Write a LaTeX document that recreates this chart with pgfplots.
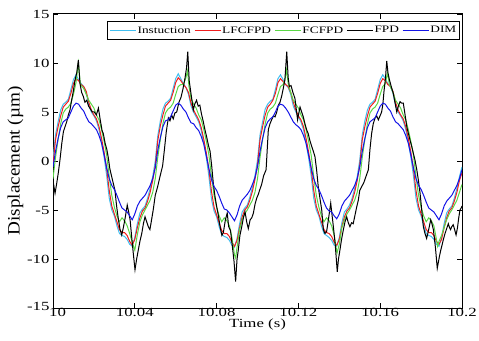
\documentclass[border=0pt]{standalone}
\usepackage{fontspec}
\usepackage{graphicx}
\usepackage{pgfplots}
\pgfplotsset{compat=1.18}
\setmainfont{Liberation Serif}[FakeStretch=1.35]
\newfontfamily\ylfont{Liberation Serif}[FakeStretch=1.1]
\definecolor{cInst}{RGB}{64,190,240}
\definecolor{cRed}{RGB}{240,30,30}
\definecolor{cGreen}{RGB}{90,215,70}
\definecolor{cBlue}{RGB}{20,20,230}
\begin{document}
\begin{tikzpicture}
\path[use as bounding box] (-53bp,-33bp) rectangle (426bp,308bp);
\begin{axis}[
  at={(0,0)}, anchor=south west,
  scale only axis, width=409bp, height=294bp,
  xmin=0, xmax=200, ymin=-15, ymax=15,
  xtick={0,40,80,120,160,200},
  xticklabels={\hspace*{9bp}10,10.04,10.08,10.12,10.16,10.2},
  ytick={-15,-10,-5,0,5,10,15},
  yticklabels={\raisebox{4bp}{-15},-10,-5,0,5,10,15},
  tick align=inside, major tick length=5bp,
  axis line style={line width=1bp},
  every tick/.style={black, line width=0.8bp},
  tick label style={font=\fontsize{12.5}{14}\selectfont},
  xticklabel style={yshift=3bp},
  xlabel={Time (s)},
  xlabel style={font=\fontsize{12.5}{14}\selectfont, yshift=5bp},
  ylabel={\ylfont\fontsize{17.5}{19}\selectfont Displacement (µm)},
  ylabel style={yshift=-3bp},
  legend columns=5,
  legend style={at={(rel axis cs:1,1)}, anchor=north east, xshift=-2bp, yshift=-7bp,
    font=\fontsize{9.9}{12}\selectfont, line width=1bp, inner xsep=2bp, inner ysep=3.5bp,
    /tikz/every odd column/.append style={column sep=0bp},
    /tikz/every even column/.append style={column sep=2bp},
    nodes={inner xsep=1.2bp, inner ysep=1.5bp}},
  legend image code/.code={\draw[#1, line width=1bp] (0bp,0bp) -- (26bp,0bp);},
  every axis plot/.append style={line width=1bp},
]
% Instruction
\addplot[color=cInst, draw=cInst] coordinates {
(0,0.2)(1.25,2.7)(2.5,4.0)(3.75,5.2)(5,5.8)(6.25,6.0)(7.5,6.3)(8.75,7.3)(10,8.3)(11.25,8.8)(12.5,8.3)(13.75,7.9)(15,7.6)(16.25,6.9)(17.5,5.7)(18.75,5.0)(20,4.6)(21.25,4.1)(22.5,3.2)(23.75,1.9)(25,0.4)(26.25,-1.5)(27.5,-3.8)(28.75,-5.0)(30,-5.6)(31.25,-6.6)(32.5,-7.4)(33.75,-7.6)(35,-7.7)(36.25,-8.0)(37.5,-8.5)(38.75,-8.7)(40,-7.8)(41.25,-6.4)(42.5,-5.3)(43.75,-4.9)(45,-4.6)(46.25,-3.8)(47.5,-2.8)(48.75,-1.6)
(50,0.0)(51.25,2.6)(52.5,4.1)(53.75,5.3)(55,5.9)(56.25,6.1)(57.5,6.4)(58.75,7.4)(60,8.4)(61.25,8.9)(62.5,8.4)(63.75,7.9)(65,7.5)(66.25,6.8)(67.5,5.6)(68.75,5.0)(70,4.5)(71.25,4.0)(72.5,3.1)(73.75,1.8)(75,0.3)(76.25,-1.6)(77.5,-3.9)(78.75,-5.1)(80,-5.7)(81.25,-6.7)(82.5,-7.5)(83.75,-7.7)(85,-7.8)(86.25,-8.1)(87.5,-8.6)(88.75,-8.8)(90,-7.9)(91.25,-6.4)(92.5,-5.2)(93.75,-4.8)(95,-4.5)(96.25,-3.7)(97.5,-2.7)(98.75,-1.5)
(100,0.1)(101.25,2.7)(102.5,4.0)(103.75,5.3)(105,5.8)(106.25,6.1)(107.5,6.3)(108.75,7.3)(110,8.4)(111.25,8.8)(112.5,8.3)(113.75,7.8)(115,7.5)(116.25,6.8)(117.5,5.6)(118.75,5.0)(120,4.5)(121.25,4.0)(122.5,3.2)(123.75,1.8)(125,0.3)(126.25,-1.5)(127.5,-3.8)(128.75,-5.0)(130,-5.6)(131.25,-6.6)(132.5,-7.4)(133.75,-7.6)(135,-7.8)(136.25,-8.1)(137.5,-8.6)(138.75,-8.7)(140,-7.8)(141.25,-6.3)(142.5,-5.2)(143.75,-4.9)(145,-4.5)(146.25,-3.8)(147.5,-2.8)(148.75,-1.6)
(150,0.1)(151.25,2.7)(152.5,4.1)(153.75,5.2)(155,5.8)(156.25,6.0)(157.5,6.3)(158.75,7.3)(160,8.3)(161.25,8.8)(162.5,8.4)(163.75,7.9)(165,7.6)(166.25,6.9)(167.5,5.7)(168.75,5.0)(170,4.6)(171.25,4.1)(172.5,3.2)(173.75,1.9)(175,0.4)(176.25,-1.5)(177.5,-3.8)(178.75,-5.0)(180,-5.6)(181.25,-6.6)(182.5,-7.4)(183.75,-7.6)(185,-7.7)(186.25,-8.0)(187.5,-8.5)(188.75,-8.7)(190,-7.8)(191.25,-6.4)(192.5,-5.3)(193.75,-4.9)(195,-4.6)(196.25,-3.8)(197.5,-2.8)(198.75,-1.6)(200,-0.6)
};
\addlegendentry{Instuction}
% LFCFPD
\addplot[color=cRed, draw=cRed] coordinates {
(0,-0.4)(1.25,2.2)(2.5,3.5)(3.75,4.6)(5,5.5)(6.25,5.8)(7.5,6.1)(8.75,6.9)(10,7.9)(11.25,8.4)(12.5,8.2)(13.75,7.8)(15,7.6)(16.25,7.1)(17.5,6.0)(18.75,5.2)(20,4.7)(21.25,4.3)(22.5,3.5)(23.75,2.3)(25,0.9)(26.25,-0.8)(27.5,-3.0)(28.75,-4.6)(30,-5.4)(31.25,-6.2)(32.5,-7.0)(33.75,-7.3)(35,-7.3)(36.25,-7.6)(37.5,-8.2)(38.75,-8.6)(40,-8.0)(41.25,-6.8)(42.5,-5.8)(43.75,-5.1)(45,-4.8)(46.25,-4.1)(47.5,-3.2)(48.75,-2.0)
(50,-0.5)(51.25,2.1)(52.5,3.6)(53.75,4.7)(55,5.6)(56.25,5.9)(57.5,6.2)(58.75,7.0)(60,8.0)(61.25,8.5)(62.5,8.2)(63.75,7.8)(65,7.5)(66.25,7.0)(67.5,5.9)(68.75,5.2)(70,4.7)(71.25,4.2)(72.5,3.4)(73.75,2.2)(75,0.8)(76.25,-0.9)(77.5,-3.1)(78.75,-4.7)(80,-5.5)(81.25,-6.3)(82.5,-7.1)(83.75,-7.4)(85,-7.4)(86.25,-7.7)(87.5,-8.3)(88.75,-8.7)(90,-8.1)(91.25,-6.8)(92.5,-5.7)(93.75,-5.0)(95,-4.7)(96.25,-4.0)(97.5,-3.1)(98.75,-1.9)
(100,-0.4)(101.25,2.2)(102.5,3.5)(103.75,4.7)(105,5.5)(106.25,5.8)(107.5,6.2)(108.75,6.9)(110,8.0)(111.25,8.4)(112.5,8.1)(113.75,7.8)(115,7.6)(116.25,7.0)(117.5,6.0)(118.75,5.2)(120,4.6)(121.25,4.2)(122.5,3.5)(123.75,2.3)(125,0.9)(126.25,-0.8)(127.5,-3.0)(128.75,-4.6)(130,-5.4)(131.25,-6.2)(132.5,-7.0)(133.75,-7.3)(135,-7.4)(136.25,-7.7)(137.5,-8.3)(138.75,-8.6)(140,-8.0)(141.25,-6.7)(142.5,-5.7)(143.75,-5.1)(145,-4.8)(146.25,-4.1)(147.5,-3.2)(148.75,-2.0)
(150,-0.4)(151.25,2.2)(152.5,3.5)(153.75,4.6)(155,5.5)(156.25,5.8)(157.5,6.1)(158.75,6.9)(160,7.9)(161.25,8.4)(162.5,8.2)(163.75,7.8)(165,7.6)(166.25,7.1)(167.5,6.0)(168.75,5.2)(170,4.7)(171.25,4.3)(172.5,3.5)(173.75,2.3)(175,0.9)(176.25,-0.8)(177.5,-3.0)(178.75,-4.6)(180,-5.4)(181.25,-6.2)(182.5,-7.0)(183.75,-7.3)(185,-7.3)(186.25,-7.6)(187.5,-8.2)(188.75,-8.5)(190,-8.0)(191.25,-6.8)(192.5,-5.8)(193.75,-5.1)(195,-4.8)(196.25,-4.1)(197.5,-3.2)(198.75,-2.0)(200,-1.2)
};
\addlegendentry{LFCFPD}
% FCFPD
\addplot[color=cGreen, draw=cGreen] coordinates {
(0,-1.8)(1.25,0.4)(2.5,2.2)(3.75,3.8)(5,4.9)(6.25,5.3)(7.5,5.5)(8.75,5.9)(10,6.8)(11.25,8.0)(12.4,10.0)(13.3,8.0)(13.75,7.7)(15,7.4)(16.25,6.8)(17.5,6.2)(18.75,5.8)(20,5.4)(21.25,4.7)(22.5,4.2)(23.75,3.2)(25,2.0)(26.25,0.6)(27.5,-1.6)(28.75,-3.5)(30,-4.7)(31.25,-5.6)(32.5,-6.2)(33.75,-5.8)(35,-6.1)(36.25,-6.6)(37.5,-7.4)(38.75,-8.3)(40,-9.1)(41.25,-7.5)(42.5,-6.2)(43.75,-5.5)(45,-5.0)(46.25,-4.5)(47.5,-4.0)(48.75,-3.2)
(50,-1.8)(51.25,0.4)(52.5,2.2)(53.75,3.8)(55,4.9)(56.25,5.3)(57.5,5.5)(58.75,5.9)(60,6.8)(61.25,7.6)(62.5,7.8)(63.75,7.8)(65,8.5)(65.8,9.2)(66.5,7.6)(67.5,6.4)(68.75,5.8)(70,5.4)(71.25,4.7)(72.5,4.2)(73.75,3.2)(75,2.0)(76.25,0.6)(77.5,-1.6)(78.75,-3.5)(80,-4.7)(81.25,-5.6)(82.5,-6.2)(83.75,-5.8)(85,-6.1)(86.25,-6.6)(87.5,-7.8)(88.75,-9.6)(89.3,-9.9)(90,-8.8)(91.25,-7.0)(92.5,-6.0)(93.75,-5.4)(95,-5.0)(96.25,-4.5)(97.5,-4.0)(98.75,-3.2)
(100,-1.8)(101.25,0.4)(102.5,2.2)(103.75,3.8)(105,4.9)(106.25,5.3)(107.5,5.5)(108.75,5.9)(110,6.8)(111.25,7.6)(112.5,7.8)(113.4,8.3)(114.2,9.3)(115,7.9)(116.25,7.0)(117.5,6.2)(118.75,5.8)(120,5.4)(121.25,4.7)(122.5,4.2)(123.75,3.2)(125,2.0)(126.25,0.6)(127.5,-1.6)(128.75,-3.5)(130,-4.7)(131.25,-5.6)(132.5,-6.2)(133.75,-5.8)(135,-6.1)(136.25,-6.6)(137.5,-7.6)(138.9,-9.4)(140,-8.5)(141.25,-6.8)(142.5,-6.0)(143.75,-5.4)(145,-5.0)(146.25,-4.5)(147.5,-4.0)(148.75,-3.2)
(150,-1.8)(151.25,0.4)(152.5,2.2)(153.75,3.8)(155,4.9)(156.25,5.3)(157.5,5.5)(158.75,5.9)(160,6.8)(161.25,7.6)(162.5,7.9)(163.6,9.0)(164.5,7.8)(165,7.6)(166.25,7.0)(167.5,6.2)(168.75,5.8)(170,5.4)(171.25,4.7)(172.5,4.2)(173.75,3.2)(175,2.0)(176.25,0.6)(177.5,-1.6)(178.75,-3.5)(180,-4.7)(181.25,-5.6)(182.5,-6.2)(183.75,-5.8)(185,-6.1)(186.25,-6.6)(187.5,-8.0)(188.1,-8.7)(188.75,-8.2)(190,-7.6)(191.25,-6.8)(192.5,-6.0)(193.75,-5.4)(195,-5.0)(196.25,-4.5)(197.5,-4.0)(198.75,-3.2)(200,-2.4)
};
\addlegendentry{FCFPD}
% FPD
\addplot[color=black, draw=black] coordinates {
(0,-2.0)(1.0,-3.3)(1.8,-2.3)(2.6,-1.2)(3.4,0.1)(4.3,1.8)(5.1,3.0)(5.9,3.5)(6.7,4.0)(7.5,4.7)(8.3,5.2)(9.1,6.2)(10.0,7.2)(10.8,8.3)(11.6,9.0)(12.4,10.3)(13.2,7.9)(14.0,7.0)(14.8,6.6)(15.6,6.0)(16.5,6.2)(17.4,5.6)(18.3,5.3)(19.2,5.0)(20.2,5.0)(21.2,4.7)(22.2,5.4)(23.1,4.2)(24.0,3.1)(24.6,2.8)(25.5,1.8)(26.3,1.2)(27.0,0.4)(27.8,-0.8)(28.7,-1.6)(29.5,-2.3)(30.3,-3.0)(31.1,-4.6)(32.0,-6.0)(32.8,-7.0)(33.6,-7.55)(34.4,-6.8)(35.3,-5.8)(36.3,-4.5)(37.0,-5.2)(37.7,-6.0)(38.5,-7.8)(39.3,-9.5)(40.1,-11.1)(40.9,-10.0)(41.7,-9.1)(42.5,-8.2)(43.4,-7.4)(44.2,-6.4)(45.0,-5.7)(45.8,-6.2)(46.6,-6.7)(47.4,-7.0)(48.2,-6.0)(49.0,-5.0)
(50,-3.5)(51.2,-2.6)(52.3,-1.6)(53.6,-0.5)(54.4,1.0)(55.4,3.0)(56.4,4.4)(57.2,4.1)(58.0,4.7)(58.8,4.3)(59.6,4.9)(60.5,5.0)(61.6,6.0)(62.6,6.5)(63.5,7.3)(64.5,8.4)(65.3,9.5)(65.9,11.15)(66.6,8.2)(67.4,7.0)(68.6,5.2)(69.3,5.8)(70.2,6.2)(71.0,5.6)(71.8,5.7)(72.6,4.8)(73.5,4.0)(74.3,3.2)(75.2,2.4)(76.0,1.6)(76.8,1.0)(77.6,-0.5)(78.4,-2.3)(79.2,-3.6)(80.0,-4.6)(80.8,-5.5)(81.7,-6.7)(82.6,-7.6)(83.3,-7.3)(84.3,-6.0)(85.2,-5.3)(85.9,-6.7)(86.8,-7.1)(87.6,-8.5)(88.5,-10.2)(89.3,-12.3)(90.0,-10.0)(90.6,-9.1)(91.4,-7.6)(92.3,-6.7)(93.2,-5.7)(93.9,-5.2)(94.8,-6.3)(95.5,-6.9)(96.4,-6.0)(97.2,-5.8)(98.0,-5.3)(98.8,-4.4)(99.6,-3.8)
(100.4,-3.4)(101.0,-3.0)(102.0,-2.4)(103.0,-1.5)(104.2,-0.9)(105.3,3.2)(106.1,3.8)(106.9,4.2)(107.8,4.6)(108.6,4.5)(109.4,5.0)(110.2,5.7)(111.0,6.0)(111.8,6.6)(112.6,7.4)(113.4,8.3)(114.3,11.15)(115.0,8.5)(115.6,7.6)(116.4,7.7)(117.3,7.0)(118.3,6.4)(119.0,5.2)(119.6,4.2)(120.2,4.9)(120.8,5.5)(121.6,5.0)(122.4,4.5)(123.2,3.8)(124.0,3.2)(124.8,2.8)(125.6,2.1)(126.5,1.5)(127.3,1.0)(128.1,0.44)(128.9,-0.9)(129.7,-2.6)(130.6,-3.9)(131.4,-5.0)(132.2,-7.0)(133.0,-7.4)(133.8,-7.2)(134.8,-5.8)(135.8,-4.3)(136.5,-5.6)(137.1,-6.7)(138.0,-8.5)(139.0,-11.3)(139.6,-10.0)(140.3,-9.1)(141.1,-8.0)(142.0,-7.0)(142.8,-6.2)(143.6,-5.7)(144.4,-6.3)(145.2,-6.7)(146.0,-6.3)(146.8,-6.4)(147.6,-5.6)(148.5,-4.7)(149.3,-4.0)
(150,-3.0)(151.0,-2.6)(152.0,-2.2)(153.0,-1.6)(154.2,-0.9)(155.0,1.2)(155.8,2.8)(156.6,3.8)(157.5,4.4)(158.3,4.6)(159.1,4.2)(159.9,4.6)(160.7,5.0)(161.3,5.8)(161.9,7.2)(162.6,8.5)(163.2,10.2)(163.8,9.0)(164.5,8.3)(165.4,7.6)(166.4,6.9)(167.2,6.0)(168.1,5.0)(168.9,5.6)(169.7,6.05)(170.5,5.9)(171.3,5.9)(172.1,4.8)(173.0,3.5)(173.8,2.8)(174.6,2.1)(175.4,1.5)(176.2,0.8)(177.0,0.1)(177.9,-0.9)(178.7,-2.0)(179.5,-3.3)(180.3,-5.0)(181.1,-6.7)(181.9,-7.4)(182.7,-7.9)(183.7,-7.0)(184.7,-6.0)(185.3,-6.4)(186.0,-7.0)(187.0,-8.8)(187.9,-10.95)(188.9,-9.8)(189.5,-9.2)(190.1,-8.7)(190.9,-8.0)(191.7,-7.4)(192.5,-6.9)(193.3,-6.4)(193.9,-6.8)(194.4,-7.0)(195.0,-6.7)(195.7,-6.5)(196.4,-7.0)(197.1,-7.55)(197.8,-6.8)(198.4,-5.8)(199.0,-5.0)(199.6,-4.8)(200,-4.6)
};
\addlegendentry{FPD}
% DIM
\addplot[color=cBlue, draw=cBlue] coordinates {
(0,-0.6)(1.25,1.0)(2.5,2.3)(3.75,3.4)(5,4.0)(6.25,4.2)(7.5,4.4)(8.75,5.0)(10,5.6)(11.25,5.9)(12.5,5.8)(13.75,5.4)(15,5.1)(16.25,4.5)(17.5,4.0)(18.75,3.8)(20,3.5)(21.25,3.2)(22.5,2.6)(23.75,1.8)(25,0.6)(26.25,-0.7)(27.5,-1.8)(28.75,-2.5)(30,-2.9)(31.25,-3.5)(32.5,-4.2)(33.75,-4.8)(35,-5.0)(36.25,-5.2)(37.5,-5.6)(38.75,-6.0)(40,-5.4)(41.25,-4.6)(42.5,-4.1)(43.75,-3.8)(45,-3.5)(46.25,-3.0)(47.5,-2.5)(48.75,-1.8)
(50,-0.7)(51.25,1.1)(52.5,2.4)(53.75,3.5)(55,4.1)(56.25,4.2)(57.5,4.5)(58.75,5.1)(60,5.7)(61.25,5.9)(62.5,5.7)(63.75,5.3)(65,5.0)(66.25,4.4)(67.5,3.9)(68.75,3.8)(70,3.4)(71.25,3.1)(72.5,2.5)(73.75,1.7)(75,0.5)(76.25,-0.8)(77.5,-1.9)(78.75,-2.6)(80,-3.0)(81.25,-3.6)(82.5,-4.3)(83.75,-4.9)(85,-5.0)(86.25,-5.3)(87.5,-5.7)(88.75,-6.1)(90,-5.5)(91.25,-4.6)(92.5,-4.0)(93.75,-3.7)(95,-3.4)(96.25,-3.0)(97.5,-2.4)(98.75,-1.7)
(100,-0.6)(101.25,1.0)(102.5,2.3)(103.75,3.4)(105,4.0)(106.25,4.3)(107.5,4.5)(108.75,5.0)(110,5.6)(111.25,5.8)(112.5,5.7)(113.75,5.4)(115,5.0)(116.25,4.5)(117.5,4.0)(118.75,3.7)(120,3.5)(121.25,3.2)(122.5,2.6)(123.75,1.8)(125,0.6)(126.25,-0.7)(127.5,-1.8)(128.75,-2.5)(130,-2.9)(131.25,-3.5)(132.5,-4.2)(133.75,-4.8)(135,-5.1)(136.25,-5.2)(137.5,-5.6)(138.75,-5.9)(140,-5.4)(141.25,-4.6)(142.5,-4.1)(143.75,-3.8)(145,-3.5)(146.25,-3.0)(147.5,-2.5)(148.75,-1.8)
(150,-0.6)(151.25,1.0)(152.5,2.3)(153.75,3.4)(155,4.0)(156.25,4.2)(157.5,4.4)(158.75,5.0)(160,5.6)(161.25,5.9)(162.5,5.8)(163.75,5.4)(165,5.1)(166.25,4.5)(167.5,4.0)(168.75,3.8)(170,3.5)(171.25,3.2)(172.5,2.6)(173.75,1.8)(175,0.6)(176.25,-0.7)(177.5,-1.8)(178.75,-2.5)(180,-2.9)(181.25,-3.5)(182.5,-4.2)(183.75,-4.8)(185,-5.0)(186.25,-5.2)(187.5,-5.6)(188.75,-6.0)(190,-5.4)(191.25,-4.6)(192.5,-4.1)(193.75,-3.8)(195,-3.5)(196.25,-3.0)(197.5,-2.5)(198.75,-1.8)(200,-0.9)
};
\addlegendentry{DIM}
\end{axis}
\end{tikzpicture}
\end{document}
